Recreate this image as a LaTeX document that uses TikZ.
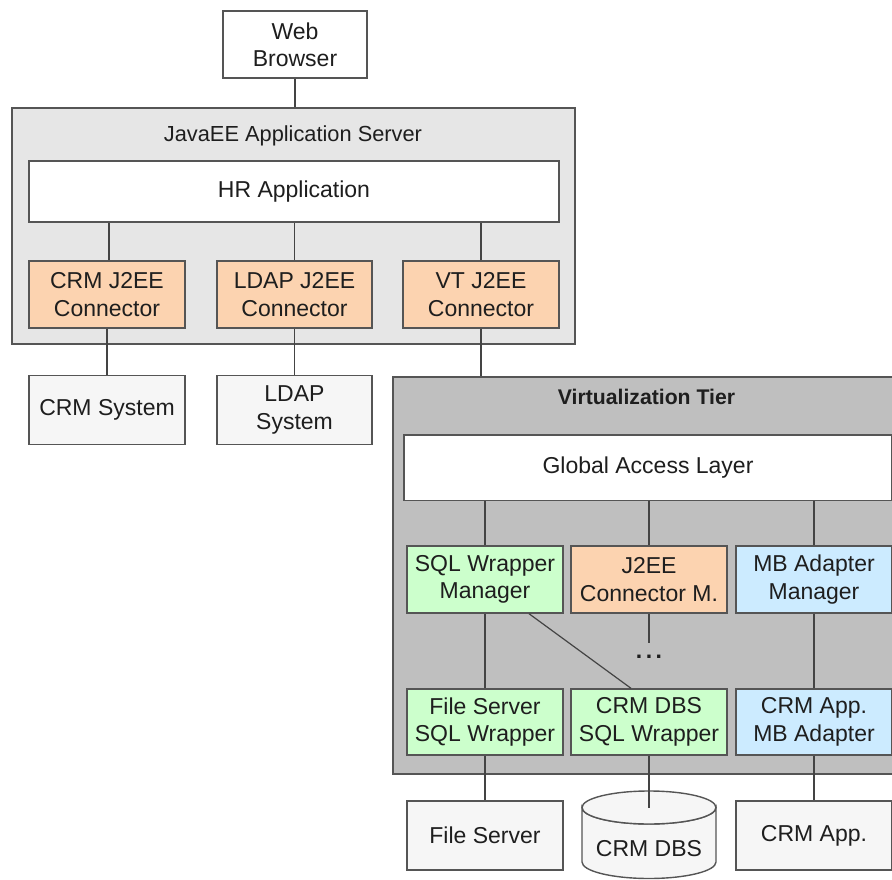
\documentclass[tikz,border=0pt]{standalone}
\usepackage{fontspec}
\setmainfont{Liberation Sans}
\definecolor{bordc}{HTML}{555555}
\definecolor{linec}{HTML}{444444}
\definecolor{txtc}{HTML}{1E1E1E}
\definecolor{srvfill}{HTML}{E6E6E6}
\definecolor{vtfill}{HTML}{BFBFBF}
\definecolor{peach}{HTML}{FCD3B0}
\definecolor{mint}{HTML}{CCFFCC}
\definecolor{skyb}{HTML}{CCEBFF}
\definecolor{sysfill}{HTML}{F6F6F6}
\tikzset{
  base/.style={draw=bordc, line width=1.4pt, align=center, inner sep=0pt, text=txtc,
    font=\fontsize{23}{27.3}\selectfont},
  whitebox/.style={base, fill=white},
  peachbox/.style={base, fill=peach, minimum width=156pt, minimum height=67pt},
  mintbox/.style={base, fill=mint, minimum width=156pt, minimum height=67pt},
  bluebox/.style={base, fill=skyb, minimum width=156pt, minimum height=67pt},
  sysbox/.style={base, fill=sysfill, minimum width=156pt, minimum height=69pt},
  conn/.style={draw=linec, line width=1.2pt},
}
\begin{document}
\begin{tikzpicture}[x=1pt,y=-1pt]
\useasboundingbox (0,0) rectangle (892,880);
\begin{scope}
\clip (0,0) rectangle (892,880);
% Web browser
\node[whitebox, minimum width=144pt, minimum height=67pt] (web) at (295,44.5) {Web\\Browser};
% JavaEE server
\node[base, fill=srvfill, minimum width=563pt, minimum height=236pt] (javaee) at (293.5,226) {};
\node[text=txtc, font=\fontsize{21.8}{26}\selectfont, inner sep=0pt] (javaeetitle) at (293,136) {JavaEE Application Server};
\node[whitebox, minimum width=530pt, minimum height=61pt] (hr) at (294,191.5) {HR Application};
\node[peachbox] (crmc) at (107,294.5) {CRM J2EE\\Connector};
\node[peachbox, minimum width=155pt] (ldapc) at (294.5,294.5) {LDAP J2EE\\Connector};
\node[peachbox] (vtc) at (481,294.5) {VT J2EE\\Connector};
% systems
\node[sysbox] (crmsys) at (107,410) {CRM System};
\node[sysbox, minimum width=155pt] (ldapsys) at (294.5,410) {LDAP\\System};
% Virtualization tier
\node[base, fill=vtfill, minimum width=507pt, minimum height=397pt] (vt) at (646.5,575.5) {};
\node[text=txtc, font=\bfseries\fontsize{21.2}{25}\selectfont, inner sep=0pt] (vttitle) at (646.5,397) {Virtualization Tier};
\node[whitebox, minimum width=488pt, minimum height=65.5pt] (gal) at (648,467.75) {Global Access Layer};
\node[mintbox] (sqlm) at (485,579.5) {SQL Wrapper\\Manager};
\node[peachbox] (j2eem) at (649,579.5) {J2EE\\Connector M.};
\node[bluebox] (mbm) at (814,579.5) {MB Adapter\\Manager};
\node[mintbox, minimum height=66pt] (fsw) at (485,722) {File Server\\SQL Wrapper};
\node[mintbox, minimum height=66pt] (crmw) at (649,722) {CRM DBS\\SQL Wrapper};
\node[bluebox, minimum height=66pt] (mba) at (814,722) {CRM App.\\MB Adapter};
\node[text=txtc, font=\bfseries\fontsize{23}{27}\selectfont, inner sep=0pt] (dots) at (649,657) {.\hspace{3.5pt}.\hspace{3.5pt}.};
\coordinate (dotsend) at (649,643);
% bottom systems
\node[sysbox] (fs) at (485,835.5) {File Server};
\node[sysbox] (crmapp) at (814,835.5) {CRM App.};
% cylinder
\coordinate (dbtop) at (649,807.5);
\draw[draw=bordc, line width=1.4pt, fill=sysfill]
  (582,807.5) -- (582,862) arc[start angle=180, end angle=360, x radius=67pt, y radius=16.5pt]
  -- (716,807.5) arc[start angle=0, end angle=180, x radius=67pt, y radius=-16.5pt] -- cycle;
\draw[draw=bordc, line width=1.4pt, fill=sysfill] (dbtop) ellipse[x radius=67pt, y radius=16.5pt];
\node[text=txtc, font=\fontsize{23}{27}\selectfont, inner sep=0pt] (dbtext) at (649,849) {CRM DBS};
% connectors
\draw[conn] (web.south) -- (web.south |- javaee.north);
\draw[conn] ([xshift=2pt]crmc.north) -- ([xshift=2pt]crmc.north |- hr.south);
\draw[conn] (ldapc.north) -- (ldapc.north |- hr.south);
\draw[conn] (vtc.north) -- (vtc.north |- hr.south);
\draw[conn] (crmc.south) -- (crmsys.north);
\draw[conn] (ldapc.south) -- (ldapsys.north);
\draw[conn] (vtc.south) -- (vtc.south |- vt.north);
\draw[conn] (sqlm.north) -- (sqlm.north |- gal.south);
\draw[conn] (j2eem.north) -- (j2eem.north |- gal.south);
\draw[conn] (mbm.north) -- (mbm.north |- gal.south);
\draw[conn] (sqlm.south) -- (fsw.north);
\draw[conn] ([xshift=44pt]sqlm.south) -- ([xshift=-18pt]crmw.north);
\draw[conn] (j2eem.south) -- (dotsend);
\draw[conn] (mbm.south) -- (mba.north);
\draw[conn] (fsw.south) -- (fs.north);
\draw[conn] (crmw.south) -- (dbtop);
\draw[conn] (mba.south) -- (crmapp.north);
\end{scope}
\end{tikzpicture}
\end{document}
